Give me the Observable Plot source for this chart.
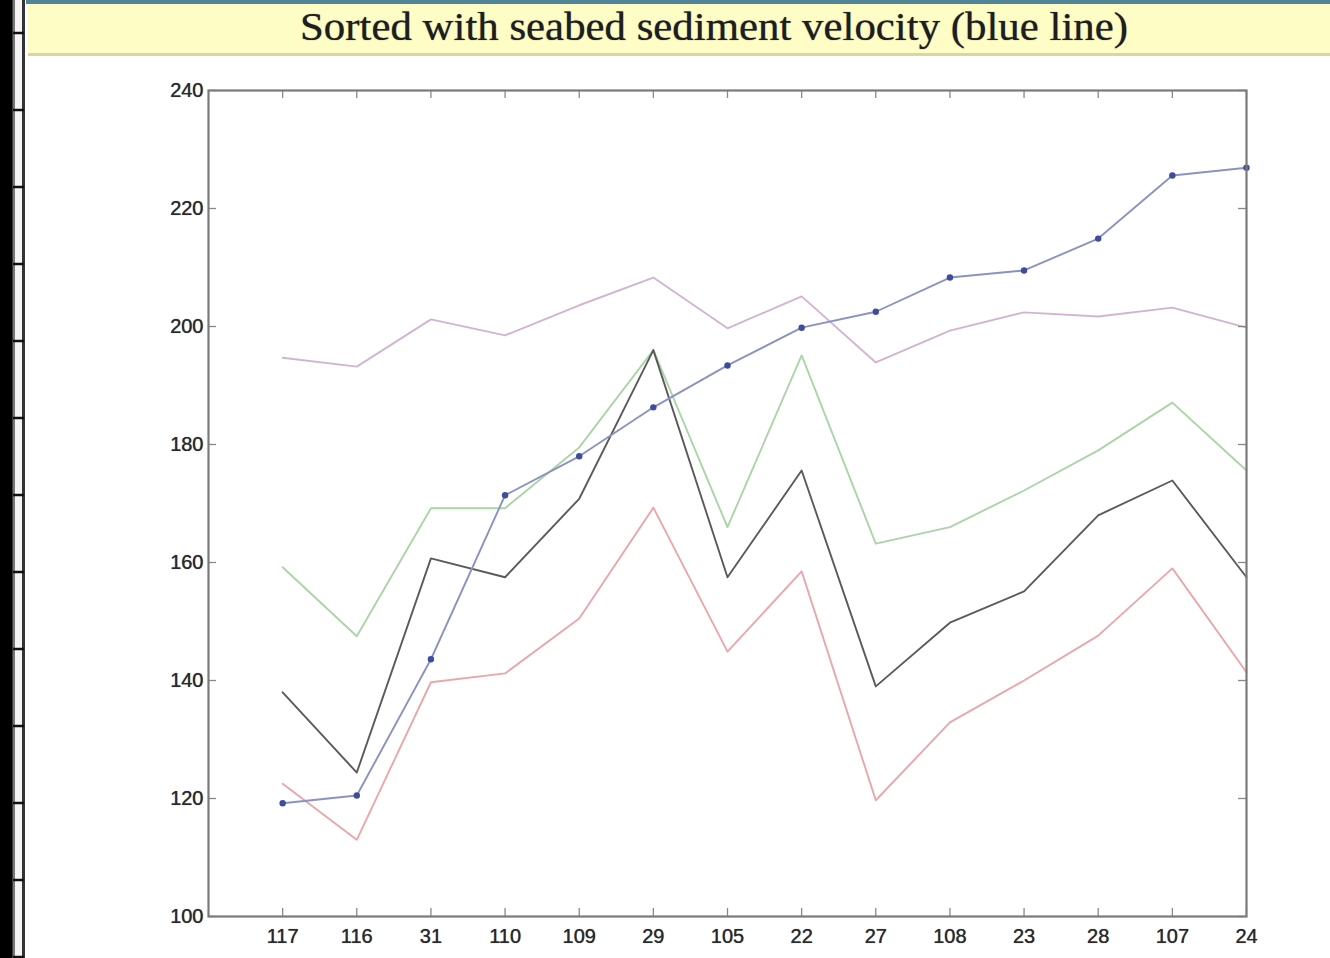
<!DOCTYPE html>
<html>
<head>
<meta charset="utf-8">
<script src="https://cdn.jsdelivr.net/npm/d3@7"></script>
<script src="https://cdn.jsdelivr.net/npm/@observablehq/plot@0.6"></script>
<style>
  html, body { margin: 0; padding: 0; background: #fff; }
  body { width: 1330px; height: 958px; position: relative; overflow: hidden; }
  #topstripe { position: absolute; left: 26px; top: 0; width: 1304px; height: 4px; background: #4f8499; }
  #titlebar { position: absolute; left: 28px; top: 4px; width: 1302px; height: 49px; background: #fffdc6; border-bottom: 3px solid #d9d6a6; }
  #title { position: absolute; left: 0; top: 0; }
  #film { position: absolute; left: 0; top: 0; width: 30px; height: 958px; }
  #chart { position: absolute; left: 0; top: 60px; }
  #chart svg g[aria-label="y-axis tick label"] text,
  #chart svg g[aria-label="x-axis tick label"] text { text-shadow: 0 0 0.8px #444; }
</style>
</head>
<body>
<svg id="film" width="30" height="958"></svg>
<div id="topstripe"></div>
<div id="titlebar">
  <svg id="title" width="1302" height="49">
    <text x="272" y="36" textLength="828" lengthAdjust="spacingAndGlyphs"
      font-family="Liberation Serif, Times New Roman, serif" font-size="40" fill="#1e1e1e"
      style="text-shadow: 0 0 1px #555">Sorted with seabed sediment velocity (blue line)</text>
  </svg>
</div>
<div id="chart"></div>
<script>
// ---- data ----
const stations = ["117","116","31","110","109","29","105","22","27","108","23","28","107","24"];
const seabedVelocity = [119.2, 120.5, 143.6, 171.4, 178.0, 186.3, 193.4, 199.8, 202.5, 208.3, 209.5, 214.9, 225.6, 226.9];
const purpleSeries   = [194.7, 193.2, 201.2, 198.5, 203.6, 208.3, 199.7, 205.1, 193.9, 199.3, 202.4, 201.7, 203.2, 199.8];
const greenSeries    = [159.2, 147.5, 169.2, 169.2, 179.5, 196.0, 166.0, 195.1, 163.2, 166.0, 172.2, 179.0, 187.1, 175.6];
const blackSeries    = [138.0, 124.4, 160.7, 157.5, 170.8, 196.0, 157.5, 175.6, 139.0, 149.8, 155.1, 168.0, 173.9, 157.5];
const redSeries      = [122.5, 113.0, 139.7, 141.2, 150.5, 169.3, 144.9, 158.5, 119.7, 132.9, 140.0, 147.6, 159.0, 141.4];
const yTicks = [100, 120, 140, 160, 180, 200, 220, 240];

const seriesList = [
  {name: "purple", values: purpleSeries, color: "#d2b4d2"},
  {name: "green",  values: greenSeries,  color: "#acd4a8"},
  {name: "red",    values: redSeries,    color: "#eba6aa"},
  {name: "black",  values: blackSeries,  color: "#5a5a5a"},
  {name: "blue",   values: seabedVelocity, color: "#8a92c2"}
];
const xPos = stations.map((s, i) => i + 1);
const rows = seriesList.flatMap(s => s.values.map((v, i) => ({series: s.name, x: i + 1, y: v})));
const blueRows = seabedVelocity.map((v, i) => ({x: i + 1, y: v}));

const W = 1330, H = 898;
const mL = 208, mR = 84, mT = 30, mB = 42;
const innerW = W - mL - mR, innerH = H - mT - mB;
const tickLen = 8;

const chart = Plot.plot({
  width: W, height: H,
  marginLeft: mL, marginRight: mR, marginTop: mT, marginBottom: mB,
  style: {fontFamily: "'Liberation Sans', Arial, sans-serif", fontSize: "20px", color: "#2a2a2a", background: "transparent"},
  x: {type: "linear", domain: [0, 14]},
  y: {type: "linear", domain: [100, 240]},
  marks: [
    ...seriesList.map(s => Plot.line(rows.filter(r => r.series === s.name), {x: "x", y: "y", stroke: s.color, strokeWidth: 1.9})),
    Plot.dot(blueRows, {x: "x", y: "y", r: 3.2, fill: "#3e4c9e", stroke: "none"}),
    // inward ticks (MATLAB style)
    Plot.tickX(xPos, {x: d => d, insetTop: innerH - tickLen, stroke: "#888", strokeWidth: 1.3}),
    Plot.tickX(xPos, {x: d => d, insetBottom: innerH - tickLen, stroke: "#888", strokeWidth: 1.3}),
    Plot.tickY(yTicks, {y: d => d, insetRight: innerW - tickLen, stroke: "#888", strokeWidth: 1.3}),
    Plot.tickY(yTicks, {y: d => d, insetLeft: innerW - tickLen, stroke: "#888", strokeWidth: 1.3}),
    Plot.frame({stroke: "#7a7a7a", strokeWidth: 2.2}),
    Plot.axisY({ticks: yTicks, tickSize: 0, tickPadding: 5, fontSize: 20, label: null}),
    Plot.axisX({ticks: xPos, tickSize: 0, tickPadding: 12, fontSize: 20, label: null, tickFormat: d => stations[d - 1]})
  ]
});
document.getElementById("chart").appendChild(chart);

// film-strip decoration on the left edge
const film = d3.select("#film");
film.append("rect").attr("x", 0).attr("y", 0).attr("width", 13).attr("height", 958).attr("fill", "#000");
film.append("rect").attr("x", 13).attr("y", 0).attr("width", 11).attr("height", 958).attr("fill", "#f4f4f4");
film.append("rect").attr("x", 12.5).attr("y", 0).attr("width", 2.5).attr("height", 958).attr("fill", "#777");
film.append("rect").attr("x", 22).attr("y", 0).attr("width", 3).attr("height", 958).attr("fill", "#333");
film.selectAll("line.t").data(d3.range(33, 958, 77)).join("line")
  .attr("x1", 13).attr("x2", 24).attr("y1", d => d).attr("y2", d => d)
  .attr("stroke", "#111").attr("stroke-width", 2.5);
</script>
</body>
</html>
